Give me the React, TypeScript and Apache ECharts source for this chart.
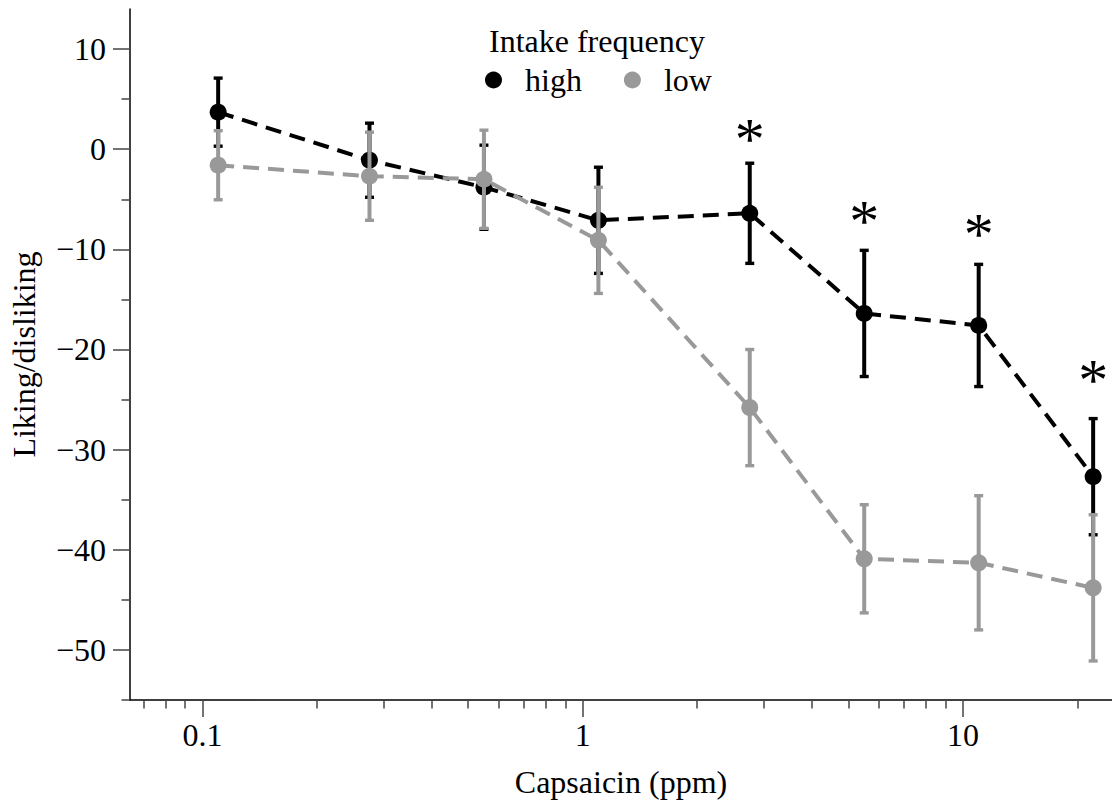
import React, { useEffect, useRef } from "react";
import * as echarts from "echarts";

const concentrations = [0.11, 0.275, 0.55, 1.1, 2.75, 5.5, 11, 22];
const highMeans = [3.7, -1.1, -3.8, -7.1, -6.4, -16.4, -17.6, -32.7];
const highErrors = [3.4, 3.7, 4.2, 5.3, 5.0, 6.3, 6.1, 5.8];
const lowMeans = [-1.6, -2.7, -3.0, -9.1, -25.8, -40.9, -41.3, -43.8];
const lowErrors = [3.45, 4.4, 4.9, 5.3, 5.8, 5.4, 6.7, 7.3];
const starLevels: (number | null)[] = [null, null, null, null, 1.8, -6.4, -7.7, -22.2];

const xMajorTicks = [0.1, 1, 10];
const xMinorTicks = [0.07, 0.08, 0.09, 0.2, 0.3, 0.4, 0.5, 0.6, 0.7, 0.8, 0.9, 2, 3, 4, 5, 6, 7, 8, 9, 20];
const yMajorTicks = [-50, -40, -30, -20, -10, 0, 10];
const yMinorTicks = [-55, -45, -35, -25, -15, -5, 5];

const X_MIN = 0.0645;
const X_MAX = 24.66;
const Y_MIN = -55;
const Y_MAX = 14;

const FONT = "'Liberation Serif', 'Times New Roman', serif";
const BLACK = "#000000";
const GRAY = "#999999";

function errorBarRenderer(color: string) {
  return (params: any, api: any) => {
    const x = api.value(0);
    const m = api.value(1);
    const e = api.value(2);
    const t = api.coord([x, m + e]);
    const b = api.coord([x, m - e]);
    const hw = 4.5;
    const style = { stroke: color, lineWidth: 4, fill: null };
    const capStyle = { stroke: color, lineWidth: 3.4, fill: null };
    return {
      type: "group",
      children: [
        { type: "line", shape: { x1: t[0], y1: t[1], x2: b[0], y2: b[1] }, style },
        { type: "line", shape: { x1: t[0] - hw, y1: t[1], x2: t[0] + hw, y2: t[1] }, style: capStyle },
        { type: "line", shape: { x1: b[0] - hw, y1: b[1], x2: b[0] + hw, y2: b[1] }, style: capStyle },
      ],
    };
  };
}

function fmtY(v: number) {
  return v < 0 ? "\u2212" + Math.abs(v) : String(v);
}

export default function App() {
  const ref = useRef<HTMLDivElement>(null);

  useEffect(() => {
    document.body.style.margin = "0";
    if (!ref.current) return;
    const chart = echarts.init(ref.current, null, { renderer: "svg" });

    const highLine = concentrations.map((c, i) => [c, highMeans[i]]);
    const lowLine = concentrations.map((c, i) => [c, lowMeans[i]]);
    const highErr = concentrations.map((c, i) => [c, highMeans[i], highErrors[i]]);
    const lowErr = concentrations.map((c, i) => [c, lowMeans[i], lowErrors[i]]);
    const stars = concentrations
      .map((c, i) => [c, starLevels[i]])
      .filter((d) => d[1] !== null);

    const axisLineStyle = { color: BLACK, width: 1.5 };
    const tickLineStyle = { color: "#444", width: 1.5 };

    const option: any = {
      animation: false,
      backgroundColor: "#ffffff",
      title: {
        text: "Intake frequency",
        left: 489,
        top: 25,
        padding: 0,
        textStyle: { fontFamily: FONT, fontSize: 32, fontWeight: "normal", color: BLACK },
      },
      legend: {
        data: ["high", "low"],
        left: 485,
        top: 64,
        padding: 0,
        icon: "circle",
        itemWidth: 17,
        itemHeight: 17,
        itemGap: 42,
        selectedMode: false,
        textStyle: { fontFamily: FONT, fontSize: 32, color: BLACK, padding: [0, 0, 0, 18] },
      },
      grid: { left: 128, right: 0, top: 9, bottom: 104, containLabel: false },
      xAxis: [
        {
          type: "log",
          min: X_MIN,
          max: X_MAX,
          name: "Capsaicin (ppm)",
          nameLocation: "middle",
          nameGap: 66,
          nameTextStyle: { fontFamily: FONT, fontSize: 32, color: BLACK },
          axisLine: { show: true, onZero: false, lineStyle: axisLineStyle },
          axisTick: { show: true, inside: false, length: 17, customValues: xMajorTicks, lineStyle: tickLineStyle },
          axisLabel: {
            show: true,
            margin: 19,
            customValues: xMajorTicks,
            fontFamily: FONT,
            fontSize: 32,
            color: BLACK,
            formatter: (v: number) => String(parseFloat(Number(v).toPrecision(3))),
          },
          splitLine: { show: false },
          minorTick: { show: false },
        },
        {
          type: "log",
          min: X_MIN,
          max: X_MAX,
          position: "bottom",
          axisLine: { show: false, onZero: false },
          axisTick: { show: true, inside: false, length: 8.5, customValues: xMinorTicks, lineStyle: tickLineStyle },
          axisLabel: { show: false },
          splitLine: { show: false },
        },
      ],
      yAxis: [
        {
          type: "value",
          min: Y_MIN,
          max: Y_MAX,
          name: "Liking/disliking",
          nameLocation: "middle",
          nameGap: 90,
          nameTextStyle: { fontFamily: FONT, fontSize: 32, color: BLACK },
          axisLine: { show: true, onZero: false, lineStyle: axisLineStyle },
          axisTick: { show: true, inside: false, length: 17, customValues: yMajorTicks, lineStyle: tickLineStyle },
          axisLabel: {
            show: true,
            margin: 24,
            customValues: yMajorTicks,
            fontFamily: FONT,
            fontSize: 32,
            color: BLACK,
            formatter: (v: number) => fmtY(v),
          },
          splitLine: { show: false },
        },
        {
          type: "value",
          min: Y_MIN,
          max: Y_MAX,
          position: "left",
          axisLine: { show: false, onZero: false },
          axisTick: { show: true, inside: false, length: 8.5, customValues: yMinorTicks, lineStyle: tickLineStyle },
          axisLabel: { show: false },
          splitLine: { show: false },
        },
      ],
      series: [
        {
          name: "high SE",
          type: "custom",
          xAxisIndex: 0,
          yAxisIndex: 0,
          renderItem: errorBarRenderer(BLACK),
          data: highErr,
          encode: { x: 0, y: 1 },
          z: 2,
          silent: true,
        },
        {
          name: "high",
          type: "line",
          xAxisIndex: 0,
          yAxisIndex: 0,
          data: highLine,
          symbol: "circle",
          symbolSize: 17,
          itemStyle: { color: BLACK },
          lineStyle: { color: BLACK, width: 4, type: [16, 9] },
          z: 3,
        },
        {
          name: "low SE",
          type: "custom",
          xAxisIndex: 0,
          yAxisIndex: 0,
          renderItem: errorBarRenderer(GRAY),
          data: lowErr,
          encode: { x: 0, y: 1 },
          z: 4,
          silent: true,
        },
        {
          name: "low",
          type: "line",
          xAxisIndex: 0,
          yAxisIndex: 0,
          data: lowLine,
          symbol: "circle",
          symbolSize: 17,
          itemStyle: { color: GRAY },
          lineStyle: { color: GRAY, width: 4, type: [16, 9] },
          z: 5,
        },
        {
          name: "significance",
          type: "custom",
          xAxisIndex: 0,
          yAxisIndex: 0,
          data: stars,
          encode: { x: 0, y: 1 },
          z: 6,
          silent: true,
          renderItem: (params: any, api: any) => {
            const p = api.coord([api.value(0), api.value(1)]);
            return {
              type: "text",
              x: p[0],
              y: p[1] + 8,
              style: {
                text: "*",
                fontFamily: FONT,
                fontSize: 60,
                fill: BLACK,
                align: "center",
                verticalAlign: "middle",
              },
            };
          },
        },
      ],
    };

    chart.setOption(option);
    return () => {
      chart.dispose();
    };
  }, []);

  return <div ref={ref} style={{ width: 1112, height: 804 }} />;
}
